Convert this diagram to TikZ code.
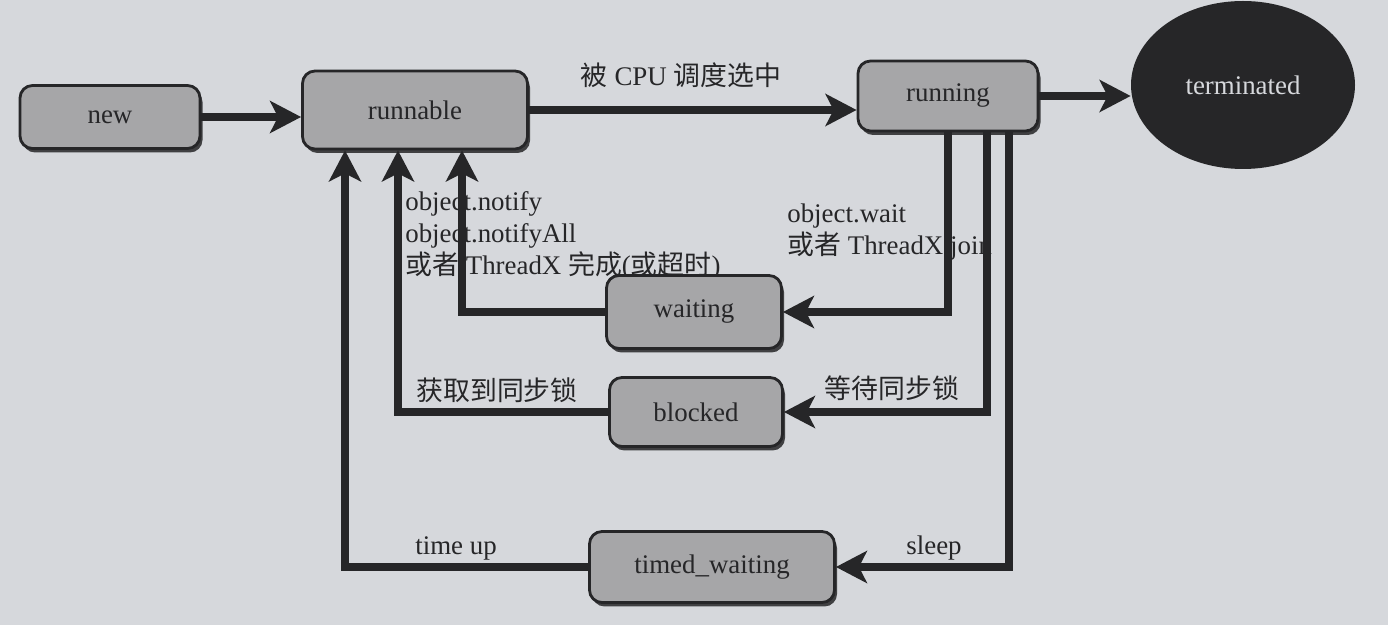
\documentclass[tikz,border=0pt]{standalone}
\usepackage{fontspec}
\setmainfont{Liberation Serif}
\newfontfamily\cjk{Noto Sans CJK SC}
\usetikzlibrary{arrows.meta,shapes.geometric,shadows}
\definecolor{paper}{RGB}{214,216,220}
\definecolor{boxgray}{RGB}{166,166,168}
\definecolor{ink}{RGB}{38,38,40}
\newcommand{\zh}[1]{{\cjk #1}}

\begin{document}
\begin{tikzpicture}[x=1cm,y=1cm,
  state/.style={draw=ink,line width=1.6pt,rounded corners=0.25cm,fill=boxgray,
    drop shadow={shadow xshift=0.05cm,shadow yshift=-0.08cm,fill=ink,opacity=0.85},
    inner sep=0pt,text=ink,font=\fontsize{15.3}{18}\selectfont},
  flow/.style={draw=ink,line width=5pt,-{Stealth[length=0.62cm,width=0.64cm,inset=0.16cm]}},
  lbl/.style={inner sep=0pt,text=ink,font=\fontsize{15.3}{18.2}\selectfont}]
  \useasboundingbox (0,0) rectangle (27.76,12.5);
  \fill[paper] (0,0) rectangle (27.76,12.5);

  \node[lbl] (cpu) at (13.62,11.0) {\zh{被} CPU \zh{调度选中}};
  \node[lbl,align=left,anchor=west] (notify) at (8.1,7.78)
    {object.notify\\object.notifyAll\\\zh{或者} ThreadX \zh{完成}(\zh{或超时})};
  \node[lbl,align=left,anchor=west] (waitlbl) at (15.74,7.86)
    {object.wait\\\zh{或者} ThreadX.join};
  \node[lbl] (getlock) at (9.94,4.7) {\zh{获取到同步锁}};
  \node[lbl] (waitlock) at (17.84,4.74) {\zh{等待同步锁}};
  \node[lbl] (timeup) at (9.12,1.54) {time up};
  \node[lbl] (sleep) at (18.68,1.54) {sleep};

  \node[state,minimum width=3.6cm,minimum height=1.26cm] (new) at (2.2,10.16) {new};
  \node[state,minimum width=4.5cm,minimum height=1.56cm] (runnable) at (8.3,10.3) {runnable};
  \node[state,minimum width=3.6cm,minimum height=1.4cm] (running) at (18.96,10.58) {running};
  \node[ellipse,fill=ink,text=paper,minimum width=4.48cm,minimum height=3.36cm,
    inner sep=0pt,font=\fontsize{15.3}{18}\selectfont] (terminated) at (24.86,10.8) {terminated};
  \node[state,minimum width=3.5cm,minimum height=1.46cm] (waiting) at (13.88,6.26) {waiting};
  \node[state,minimum width=3.46cm,minimum height=1.38cm] (blocked) at (13.92,4.26) {blocked};
  \node[state,minimum width=4.9cm,minimum height=1.42cm] (timed) at (14.24,1.16) {timed\_waiting};

  \coordinate (rb) at ([xshift=0.78cm]running.south);
  \coordinate (rt) at ([xshift=1.22cm]running.south);
  \coordinate (ua) at ([xshift=0.94cm]runnable.south);
  \coordinate (ub) at ([xshift=-0.34cm]runnable.south);
  \coordinate (uc) at ([xshift=-1.4cm]runnable.south);

  \draw[flow] (new.east) -- (new.east -| runnable.west);
  \draw[flow] (runnable.east) -- (runnable.east -| running.west);
  \draw[flow] (running.east) -- (running.east -| terminated.west);
  \draw[flow] (running.south) |- (waiting.east);
  \draw[flow] (rb) |- (blocked.east);
  \draw[flow] (rt) |- (timed.east);
  \draw[flow] (waiting.west) -| (ua);
  \draw[flow] (blocked.west) -| (ub);
  \draw[flow] (timed.west) -| (uc);
\end{tikzpicture}
\end{document}
